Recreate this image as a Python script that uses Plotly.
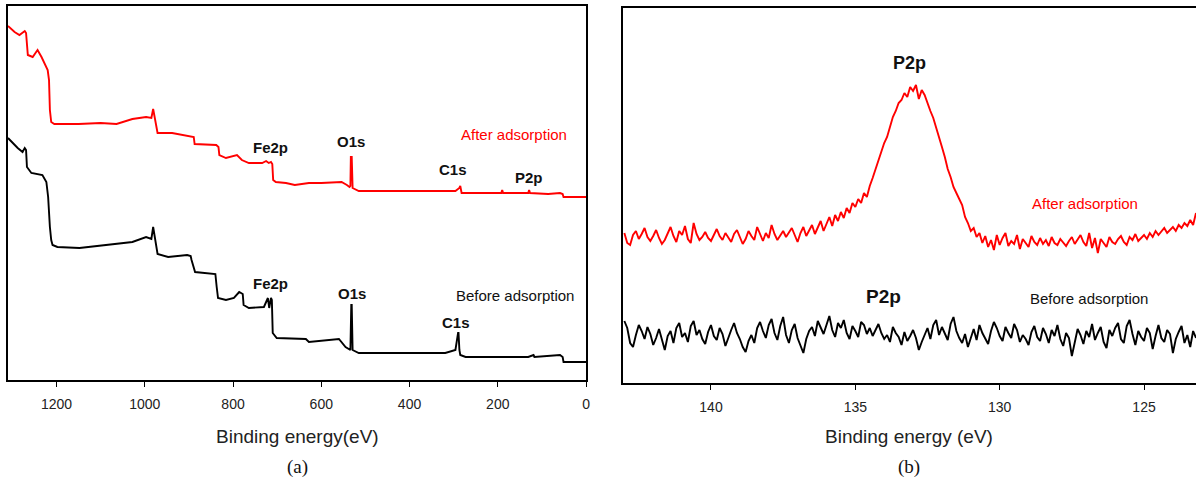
import numpy as np
import plotly.graph_objects as go

# ---- (a) XPS survey spectra: binding energy (eV) and intensity (a.u.) ----
survey_after_E = [1310, 1295, 1284, 1272, 1269, 1267, 1265, 1254, 1243, 1234, 1227, 1220, 1217,
                  1215, 1212, 1205, 1150, 1100, 1064, 1028, 997, 985, 981, 976, 973, 971, 938,
                  915, 895, 889, 887, 838, 833, 831, 816, 791, 780, 764, 734, 725, 719, 714, 711,
                  709, 703, 680, 660, 628, 600, 554, 542, 536, 534, 533, 531, 529, 515, 400, 296, 287,
                  285, 282, 192, 190, 188, 131, 129, 127, 86, 59, 53, 51, 0]
survey_after_I = [354, 348, 345, 349, 347, 330, 325, 323, 330, 323, 317, 310, 300,
                  270, 258, 256, 256, 257, 256, 261, 263, 262, 271, 260, 250, 247, 247,
                  245, 244, 243, 236, 235, 233, 225, 222, 225, 220, 217, 217, 219, 217, 218, 216,
                  200, 198, 197, 195, 197, 197, 198, 195, 193, 194, 223, 223, 192, 189, 189, 189, 192,
                  194, 187, 187, 190, 187, 187, 190, 187, 186, 187, 186, 183, 183]

survey_before_E = [1310, 1300, 1288, 1277, 1272, 1269, 1267, 1257, 1238, 1232, 1223, 1219, 1215,
                   1212, 1209, 1198, 1148, 1080, 1028, 997, 985, 981, 976, 973, 971, 947, 904, 896, 894,
                   886, 850, 840, 837, 834, 816, 798, 786, 778, 776, 764, 730, 724, 721, 718, 716,
                   714, 712, 710, 701, 635, 628, 560, 545, 534, 532, 531, 529, 515, 319, 296, 290, 289,
                   287, 285, 273, 131, 119, 117, 59, 53, 51, 0]
survey_before_I = [242, 237, 232, 228, 232, 230, 213, 207, 205, 205, 198, 183, 153,
                   140, 135, 133, 132, 135, 138, 143, 141, 153, 140, 130, 126, 123, 125, 124, 120,
                   108, 107, 106, 93, 82, 80, 82, 88, 86, 75, 72, 73, 80, 82, 72, 77,
                   82, 80, 47, 42, 41, 38, 41, 33, 30, 75, 75, 30, 27, 27, 30, 47, 47,
                   30, 25, 23, 23, 25, 23, 25, 23, 18, 18]

# ---- (b) high-resolution P 2p region, 0.1 eV steps from 143.0 eV ----
hr_start, hr_step = 143.0, 0.1
p2p_after = [150, 140, 138, 148, 152, 144, 149, 155, 146, 142,
             147, 153, 145, 139, 143, 150, 156, 147, 141, 152,
             148, 157, 144, 140, 160, 149, 143, 146, 151, 145,
             142, 148, 154, 147, 143, 150, 145, 141, 149, 153,
             146, 139, 144, 152, 147, 143, 156, 148, 142, 150,
             145, 158, 149, 143, 147, 152, 146, 151, 155, 148,
             141, 150, 156, 147, 153, 158, 149, 155, 162, 152,
             160, 166, 157, 168, 162, 171, 165, 175, 170, 180,
             176, 184, 180, 190, 186, 197, 205, 214, 222, 230,
             240, 246, 255, 266, 272, 280, 283, 290, 286, 296,
             292, 298, 284, 293, 288, 279, 272, 265, 256, 246,
             236, 226, 214, 206, 196, 190, 184, 178, 166, 160,
             152, 155, 146, 150, 140, 147, 136, 143, 133, 148,
             138, 145, 150, 137, 142, 139, 148, 134, 144, 140,
             136, 147, 141, 138, 145, 139, 143, 137, 146, 140,
             138, 144, 141, 137, 142, 146, 139, 143, 148, 141,
             137, 150, 135, 145, 130, 144, 140, 136, 146, 141,
             139, 144, 147, 141, 138, 146, 143, 149, 142, 145,
             148, 144, 150, 146, 152, 148, 151, 155, 150, 153,
             156, 152, 158, 155, 160, 157, 163, 158, 170]
p2p_before = [62, 55, 40, 36, 48, 58, 52, 44, 56, 49,
              38, 45, 54, 42, 33, 47, 52, 40, 55, 60,
              46, 50, 41, 57, 62, 48, 53, 44, 39, 51,
              58, 47, 43, 55, 49, 37, 46, 53, 60, 50,
              44, 36, 31, 42, 48, 40, 55, 61, 52, 45,
              58, 64, 50, 43, 57, 66, 48, 40, 53, 59,
              45, 38, 30, 44, 52, 56, 47, 62, 55, 49,
              58, 67, 53, 46, 60, 55, 63, 50, 44, 57,
              52, 46, 61, 58, 49, 55, 47, 53, 59, 50,
              44, 48, 41, 56, 50, 46, 38, 51, 42, 47,
              53, 45, 33, 41, 49, 55, 44, 58, 63, 48,
              56, 50, 43, 59, 66, 52, 45, 40, 49, 36,
              46, 54, 43, 58, 50, 44, 39, 52, 61, 55,
              47, 42, 56, 50, 45, 59, 53, 41, 48, 44,
              38, 51, 57, 46, 42, 55, 49, 40, 53, 47,
              58, 44, 37, 50, 45, 27, 42, 54, 48, 39,
              52, 46, 59, 43, 50, 56, 41, 35, 53, 47,
              55, 60, 44, 40, 57, 63, 49, 38, 52, 46,
              42, 55, 50, 34, 47, 58, 45, 41, 53, 49,
              30, 44, 51, 57, 40, 48, 36, 52, 45]
hr_E = np.round(hr_start - hr_step * np.arange(len(p2p_after)), 2)

survey_ticks = [1200, 1000, 800, 600, 400, 200, 0]
hr_ticks = [140, 135, 130, 125]

RED, BLACK = "#ff0000", "#000000"
SANS = "Liberation Sans, Arial, sans-serif"
SERIF = "Liberation Serif, Times New Roman, serif"

fig = go.Figure()
fig.add_trace(go.Scatter(x=survey_after_E, y=survey_after_I, mode="lines",
                         line=dict(color=RED, width=1.9), xaxis="x", yaxis="y"))
fig.add_trace(go.Scatter(x=survey_before_E, y=survey_before_I, mode="lines",
                         line=dict(color=BLACK, width=1.9), xaxis="x", yaxis="y"))
fig.add_trace(go.Scatter(x=hr_E, y=p2p_after, mode="lines",
                         line=dict(color=RED, width=1.9), xaxis="x2", yaxis="y2"))
fig.add_trace(go.Scatter(x=hr_E, y=p2p_before, mode="lines",
                         line=dict(color=BLACK, width=1.9), xaxis="x2", yaxis="y2"))

axis_common = dict(showgrid=False, zeroline=False, showline=True, linecolor="#000",
                   linewidth=1.8, ticks="outside", ticklen=5, tickwidth=1.4,
                   tickcolor="#000", tickfont=dict(family=SANS, size=14, color="#222"),
                   ticklabelstandoff=5)

fig.update_layout(
    width=1200, height=484, margin=dict(l=0, r=0, t=0, b=0),
    paper_bgcolor="white", plot_bgcolor="white", showlegend=False,
    xaxis=dict(domain=[8 / 1200, 588 / 1200], range=[1310, 0], tickvals=survey_ticks,
               mirror=True, anchor="y", **axis_common),
    yaxis=dict(domain=[1 - 380 / 484, 1 - 6 / 484], range=[0, 374], showticklabels=False,
               showgrid=False, zeroline=False, showline=True, linecolor="#000",
               linewidth=1.8, mirror=True, ticks="", anchor="x"),
    xaxis2=dict(domain=[625 / 1200, 1.0], range=[143.05, 123.2], tickvals=hr_ticks,
                mirror=True, anchor="y2", **axis_common),
    yaxis2=dict(domain=[1 - 383 / 484, 1 - 8 / 484], range=[0, 375], showticklabels=False,
                showgrid=False, zeroline=False, showline=True, linecolor="#000",
                linewidth=1.8, mirror=False, ticks="", anchor="x2"),
)

def label(x, y, text, xr, yr, size=15, color="#111", family=SANS):
    fig.add_annotation(x=x, y=y, xref=xr, yref=yr, text=text, showarrow=False,
                       xanchor="center", yanchor="middle",
                       font=dict(family=family, size=size, color=color))

# peak labels, panel (a)
label(716, 232, "<b>Fe2p</b>", "x", "y")
label(533, 238, "<b>O1s</b>", "x", "y")
label(301, 210, "<b>C1s</b>", "x", "y")
label(129, 202, "<b>P2p</b>", "x", "y")
label(163, 245, "After adsorption", "x", "y", color=RED)
label(716, 97, "<b>Fe2p</b>", "x", "y")
label(531, 87, "<b>O1s</b>", "x", "y")
label(294, 58, "<b>C1s</b>", "x", "y")
label(160, 85, "Before adsorption", "x", "y")

# peak labels, panel (b)
label(133.13, 320, "<b>P2p</b>", "x2", "y2", size=18)
label(127.06, 179, "After adsorption", "x2", "y2", color=RED)
label(134.03, 87, "<b>P2p</b>", "x2", "y2", size=19)
label(126.89, 85, "Before adsorption", "x2", "y2")

# axis titles and panel letters
label(298 / 1200, 1 - 436 / 484, "Binding energy(eV)", "paper", "paper", size=19, color="#222")
label(912 / 1200, 1 - 436 / 484, "Binding energy (eV)", "paper", "paper", size=19, color="#222")
label(298 / 1200, 1 - 467 / 484, "(a)", "paper", "paper", size=19, color="#111", family=SERIF)
label(912 / 1200, 1 - 467 / 484, "(b)", "paper", "paper", size=19, color="#111", family=SERIF)

fig.write_html("out.html")
